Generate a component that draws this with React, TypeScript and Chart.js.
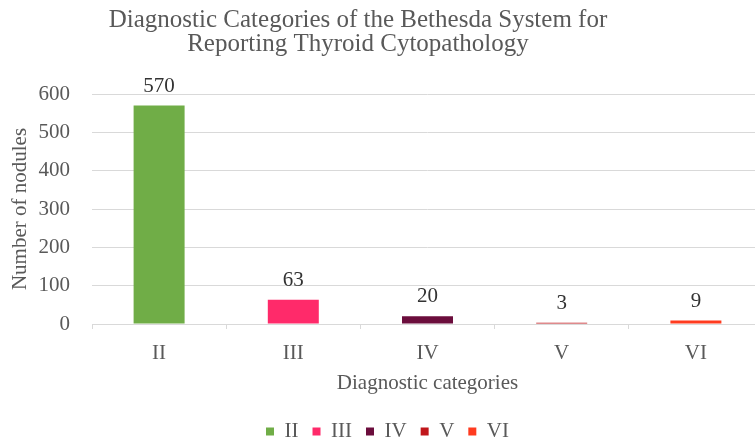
import React, { useEffect, useRef } from "react";
import { Chart, registerables } from "chart.js";

Chart.register(...registerables);

const categories = ["II", "III", "IV", "V", "VI"];
const counts = [570, 63, 20, 3, 9];
const barColors = ["#70AD47", "#FF2A6A", "#6B0D3C", "#C0171B", "#FF3B1F"];
const titleLines = [
  "Diagnostic Categories of the Bethesda System for",
  "Reporting Thyroid Cytopathology",
];
const yMax = 600;
const yStep = 100;

const FONT = "'Liberation Serif', 'Times New Roman', serif";
const TEXT = "#595959";
const GRID = "#D9D9D9";

const titlePlugin = {
  id: "customTitle",
  afterDraw(chart: any) {
    const ctx = chart.ctx;
    ctx.save();
    ctx.fillStyle = TEXT;
    ctx.font = `25px ${FONT}`;
    ctx.textAlign = "center";
    ctx.textBaseline = "alphabetic";
    ctx.fillText(titleLines[0], 358, 27);
    ctx.fillText(titleLines[1], 358, 51);
    ctx.restore();
  },
};

const valueLabels = {
  id: "valueLabels",
  afterDatasetsDraw(chart: any) {
    const ctx = chart.ctx;
    const meta = chart.getDatasetMeta(0);
    ctx.save();
    ctx.fillStyle = "#333333";
    ctx.font = `21px ${FONT}`;
    ctx.textAlign = "center";
    ctx.textBaseline = "alphabetic";
    meta.data.forEach((bar: any, i: number) => {
      ctx.fillText(String(counts[i]), bar.x, bar.y - 14);
    });
    ctx.restore();
  },
};

export default function App() {
  const ref = useRef<HTMLCanvasElement>(null);
  useEffect(() => {
    document.body.style.margin = "0";
    document.body.style.overflow = "hidden";
    document.documentElement.style.overflow = "hidden";
    const chart = new Chart(ref.current!, {
      type: "bar",
      data: {
        labels: categories,
        datasets: [
          {
            label: "Number of nodules",
            data: counts,
            backgroundColor: barColors,
            borderWidth: 0,
            categoryPercentage: 1,
            barPercentage: 0.38,
          },
        ],
      },
      plugins: [titlePlugin, valueLabels],
      options: {
        responsive: false,
        animation: false,
        layout: { padding: { top: 94, left: 12, right: 12, bottom: 0 } },
        plugins: {
          title: { display: false },
          tooltip: { enabled: false },
          legend: {
            position: "bottom",
            onClick: () => {},
            labels: {
              color: TEXT,
              font: { family: FONT, size: 21 },
              boxWidth: 8,
              boxHeight: 8,
              padding: 14,
              generateLabels: () =>
                categories.map((c, i) => ({
                  text: c,
                  fillStyle: barColors[i],
                  strokeStyle: barColors[i],
                  lineWidth: 0,
                  hidden: false,
                  index: i,
                  fontColor: TEXT,
                })),
            },
          },
        },
        scales: {
          x: {
            afterFit: (scale: any) => {
              scale.height = 83;
            },
            grid: {
              display: true,
              drawOnChartArea: false,
              offset: true,
              tickLength: 5,
              color: GRID,
            },
            border: { display: true, color: GRID },
            ticks: {
              color: TEXT,
              font: { family: FONT, size: 21 },
              padding: 12,
            },
            title: {
              display: true,
              text: "Diagnostic categories",
              color: TEXT,
              font: { family: FONT, size: 21 },
              padding: { top: 0, bottom: 11 },
            },
          },
          y: {
            min: 0,
            max: yMax,
            afterFit: (scale: any) => {
              scale.width = 80;
            },
            ticks: {
              stepSize: yStep,
              color: TEXT,
              font: { family: FONT, size: 21 },
              padding: 22,
            },
            grid: { color: GRID, drawTicks: false, lineWidth: 1 },
            border: { display: false },
            title: {
              display: true,
              text: "Number of nodules",
              color: TEXT,
              font: { family: FONT, size: 21 },
              padding: { top: -4, bottom: 0 },
            },
          },
        },
      },
    });
    return () => chart.destroy();
  }, []);
  return <canvas ref={ref} width={775} height={452} style={{ display: "block" }} />;
}
